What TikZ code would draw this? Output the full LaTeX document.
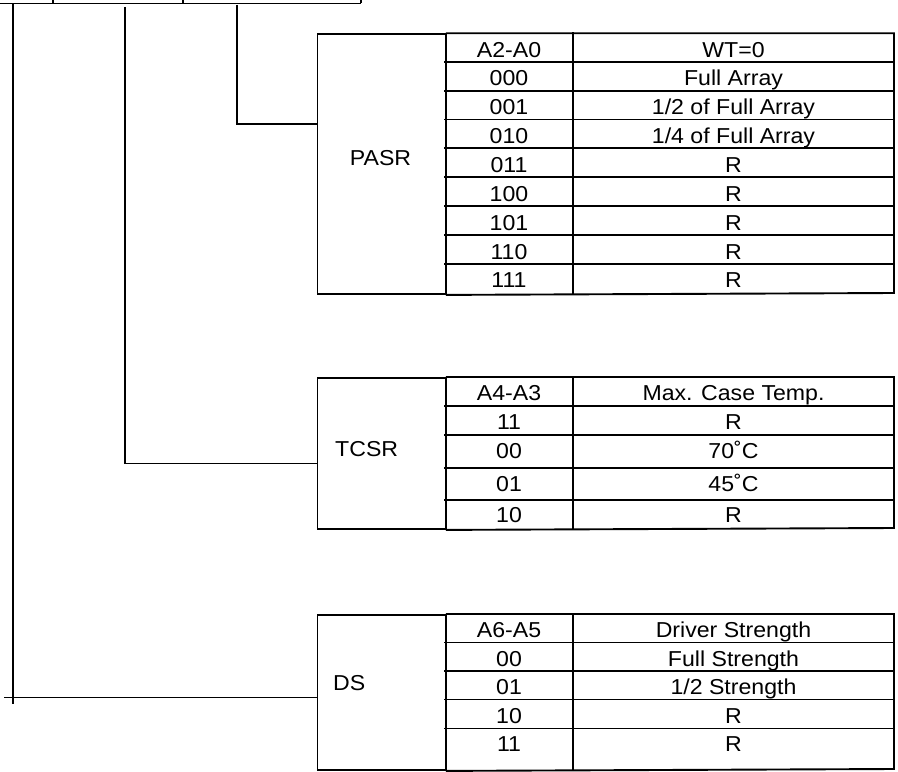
\documentclass[tikz,border=0pt]{standalone}
\usepackage{fontspec}
\setmainfont{Liberation Sans}[FakeStretch=1.07]
\begin{document}
\begin{tikzpicture}[x=1bp,y=-1bp,
  tline/.style={line width=1.9bp, line cap=rect},
  cline/.style={line width=1.5bp},
  cellbox/.style={draw, line width=1.9bp, inner sep=0, anchor=north west},
  txt/.style={font=\fontsize{21.6bp}{23bp}\selectfont, inner sep=0, anchor=base}]
\useasboundingbox (0,0) rectangle (898,772);

% top register bar (cropped)
\draw[cline] (0,3.3) -- (361,3.3);
\draw[cline] (53,0) -- (53,3.3);
\draw[cline] (183,0) -- (183,3.3);
\draw[cline] (361,0) -- (361,3.3);

% ---------------- PASR table ----------------
\node[cellbox, minimum width=128.5bp, minimum height=259.7bp] (pasr) at (316.5,33.3) {};
\draw[tline] (pasr.north east) -- (894,33.3) -- (894,293) -- (pasr.south east);
\draw[tline] (573,33.3) -- (573,293);
\foreach \y in {61.7,90.6,119.5,148.4,177.3,206.2,235.1,264.0}
  \draw[tline] (445,\y) -- (894,\y);
\node[txt] (pasrlbl) at (380.5,165) {PASR};
\node[txt] (pa0) at (509,57.2) {A2-A0};   \node[txt] (pb0) at (733.5,57.2) {WT=0};
\node[txt] (pa1) at (509,85.6) {000};     \node[txt] (pb1) at (733.5,85.6) {Full Array};
\node[txt] (pa2) at (509,114.5) {001};    \node[txt] (pb2) at (733.5,114.5) {1/2 of Full Array};
\node[txt] (pa3) at (509,143.4) {010};    \node[txt] (pb3) at (733.5,143.4) {1/4 of Full Array};
\node[txt] (pa4) at (509,172.3) {011};    \node[txt] (pb4) at (733.5,172.3) {R};
\node[txt] (pa5) at (509,201.2) {100};    \node[txt] (pb5) at (733.5,201.2) {R};
\node[txt] (pa6) at (509,230.1) {101};    \node[txt] (pb6) at (733.5,230.1) {R};
\node[txt] (pa7) at (509,259.0) {110};    \node[txt] (pb7) at (733.5,259.0) {R};
\node[txt] (pa8) at (509,287.5) {111};    \node[txt] (pb8) at (733.5,287.5) {R};

% ---------------- TCSR table ----------------
\node[cellbox, minimum width=128.5bp, minimum height=151bp] (tcsr) at (316.5,377) {};
\draw[tline] (tcsr.north east) -- (894,377) -- (894,528) -- (tcsr.south east);
\draw[tline] (573,377) -- (573,528);
\foreach \y in {406,435,468,500}
  \draw[tline] (445,\y) -- (894,\y);
\node[txt, anchor=base west] (tcsrlbl) at (335,456) {TCSR};
\node[txt] (ta0) at (509,400.5) {A4-A3};  \node[txt] (tb0) at (733.5,400.5) {Max. Case Temp.};
\node[txt] (ta1) at (509,429.5) {11};     \node[txt] (tb1) at (733.5,429.5) {R};
\node[txt] (ta2) at (509,458.5) {00};     \node[txt] (tb2) at (733.5,458.5) {70˚C};
\node[txt] (ta3) at (509,491) {01};       \node[txt] (tb3) at (733.5,491) {45˚C};
\node[txt] (ta4) at (509,522.5) {10};     \node[txt] (tb4) at (733.5,522.5) {R};

% ---------------- DS table ----------------
\node[cellbox, minimum width=128.5bp, minimum height=155bp] (ds) at (316.5,614) {};
\draw[tline] (ds.north east) -- (894,614) -- (894,769) -- (ds.south east);
\draw[tline] (573,614) -- (573,769);
\foreach \y in {642.5,671,699.5,728.5}
  \draw[tline] (445,\y) -- (894,\y);
\node[txt, anchor=base west] (dslbl) at (333,690) {DS};
\node[txt] (da0) at (509,637.5) {A6-A5};  \node[txt] (db0) at (733.5,637.5) {Driver Strength};
\node[txt] (da1) at (509,666) {00};       \node[txt] (db1) at (733.5,666) {Full Strength};
\node[txt] (da2) at (509,694.5) {01};     \node[txt] (db2) at (733.5,694.5) {1/2 Strength};
\node[txt] (da3) at (509,723) {10};       \node[txt] (db3) at (733.5,723) {R};
\node[txt] (da4) at (509,751.5) {11};     \node[txt] (db4) at (733.5,751.5) {R};

% ---------------- connectors ----------------
\coordinate (t1) at (13,4);
\coordinate (t2) at (125,7);
\coordinate (t3) at (237,5);
\coordinate (bend1) at (13,704);
\coordinate (dsfree) at (4,697.3);
\draw[cline] (t3) |- (pasr.west |- 0,124);
\draw[cline] (t2) |- (tcsr.west |- 0,463.7);
\draw[cline] (t1) -- (bend1);
\draw[cline] (dsfree) -- (ds.west |- dsfree);
\end{tikzpicture}
\end{document}
